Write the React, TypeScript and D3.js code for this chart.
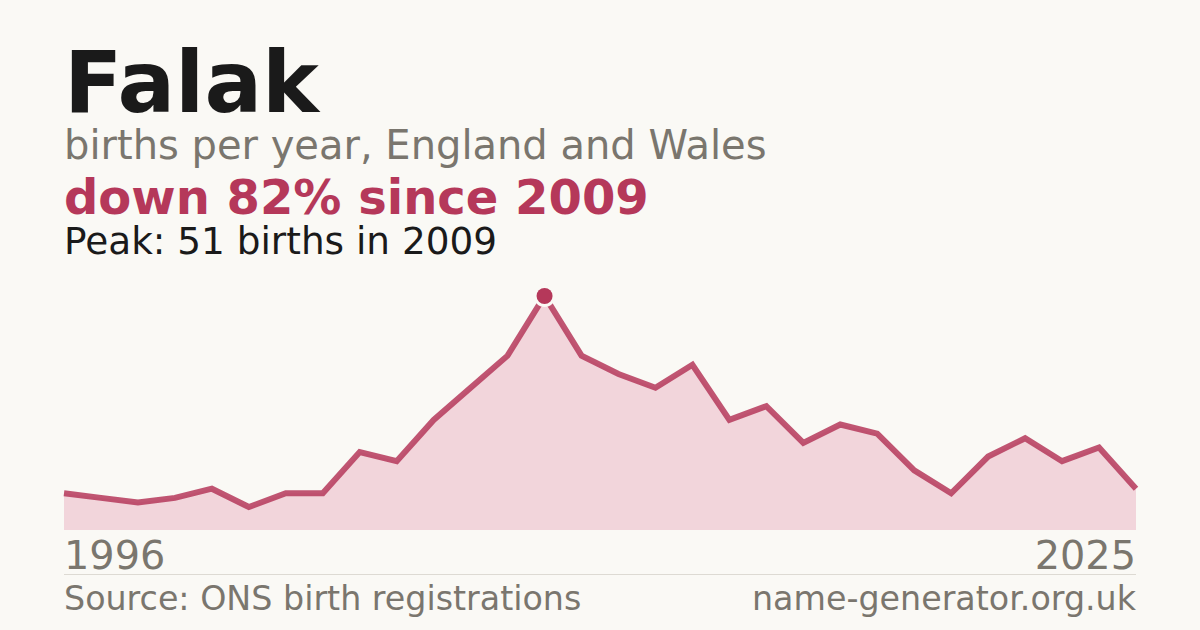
import React from "react";
import * as d3 from "d3";

const years: number[] = d3.range(1996, 2026);
const births: number[] = [8, 7, 6, 7, 9, 5, 8, 8, 17, 15, 24, 31, 38, 51, 38, 34, 31, 36, 24, 27, 19, 23, 21, 13, 8, 16, 20, 15, 18, 9];
const peakYear = 2009;
const peakValue = 51;

const W = 1200;
const H = 630;
const BG = "#faf9f5";
const RED = "#b5385a";
const GRAY = "#7a766e";
const FONT = "'DejaVu Sans', sans-serif";

export default function App() {
  const x = d3.scaleLinear().domain([1996, 2025]).range([64, 1136]);
  const y = d3.scaleLinear().domain([0, 51]).range([530, 296]);
  const data = years.map((yr, i) => ({ yr, v: births[i] }));
  const area = d3.area<{ yr: number; v: number }>().x(d => x(d.yr)).y0(y(0)).y1(d => y(d.v));
  const line = d3.line<{ yr: number; v: number }>().x(d => x(d.yr)).y(d => y(d.v));
  return (
    <svg width={W} height={H} style={{ position: "absolute", left: 0, top: 0, display: "block" }}>
      <rect width={W} height={H} fill={BG} />
      <text x={64} y={112} fontFamily={FONT} fontWeight="bold" fontSize={85.5} fill="#1a1a1a">Falak</text>
      <text x={64} y={159} fontFamily={FONT} fontSize={40} fill={GRAY}>births per year, England and Wales</text>
      <text x={64} y={214} fontFamily={FONT} fontWeight="bold" fontSize={48} fill={RED}>down 82% since 2009</text>
      <text x={64} y={254} fontFamily={FONT} fontSize={37.4} fill="#1a1a1a">Peak: 51 births in 2009</text>
      <path d={area(data) || ""} fill="#f2d5db" />
      <path d={line(data) || ""} fill="none" stroke={RED} strokeOpacity={0.85} strokeWidth={6} />
      <circle cx={x(peakYear)} cy={y(peakValue)} r={11} fill={BG} />
      <circle cx={x(peakYear)} cy={y(peakValue)} r={8} fill={RED} />
      <text x={64} y={569} fontFamily={FONT} fontSize={39.8} fill={GRAY}>1996</text>
      <text x={1136} y={569} fontFamily={FONT} fontSize={39.8} fill={GRAY} textAnchor="end">2025</text>
      <line x1={64} x2={1136} y1={574.5} y2={574.5} stroke="#dddad3" strokeWidth={1} />
      <text x={64} y={610} fontFamily={FONT} fontSize={33.3} fill={GRAY}>Source: ONS birth registrations</text>
      <text x={1136} y={610} fontFamily={FONT} fontSize={33.3} fill={GRAY} textAnchor="end">name-generator.org.uk</text>
    </svg>
  );
}
